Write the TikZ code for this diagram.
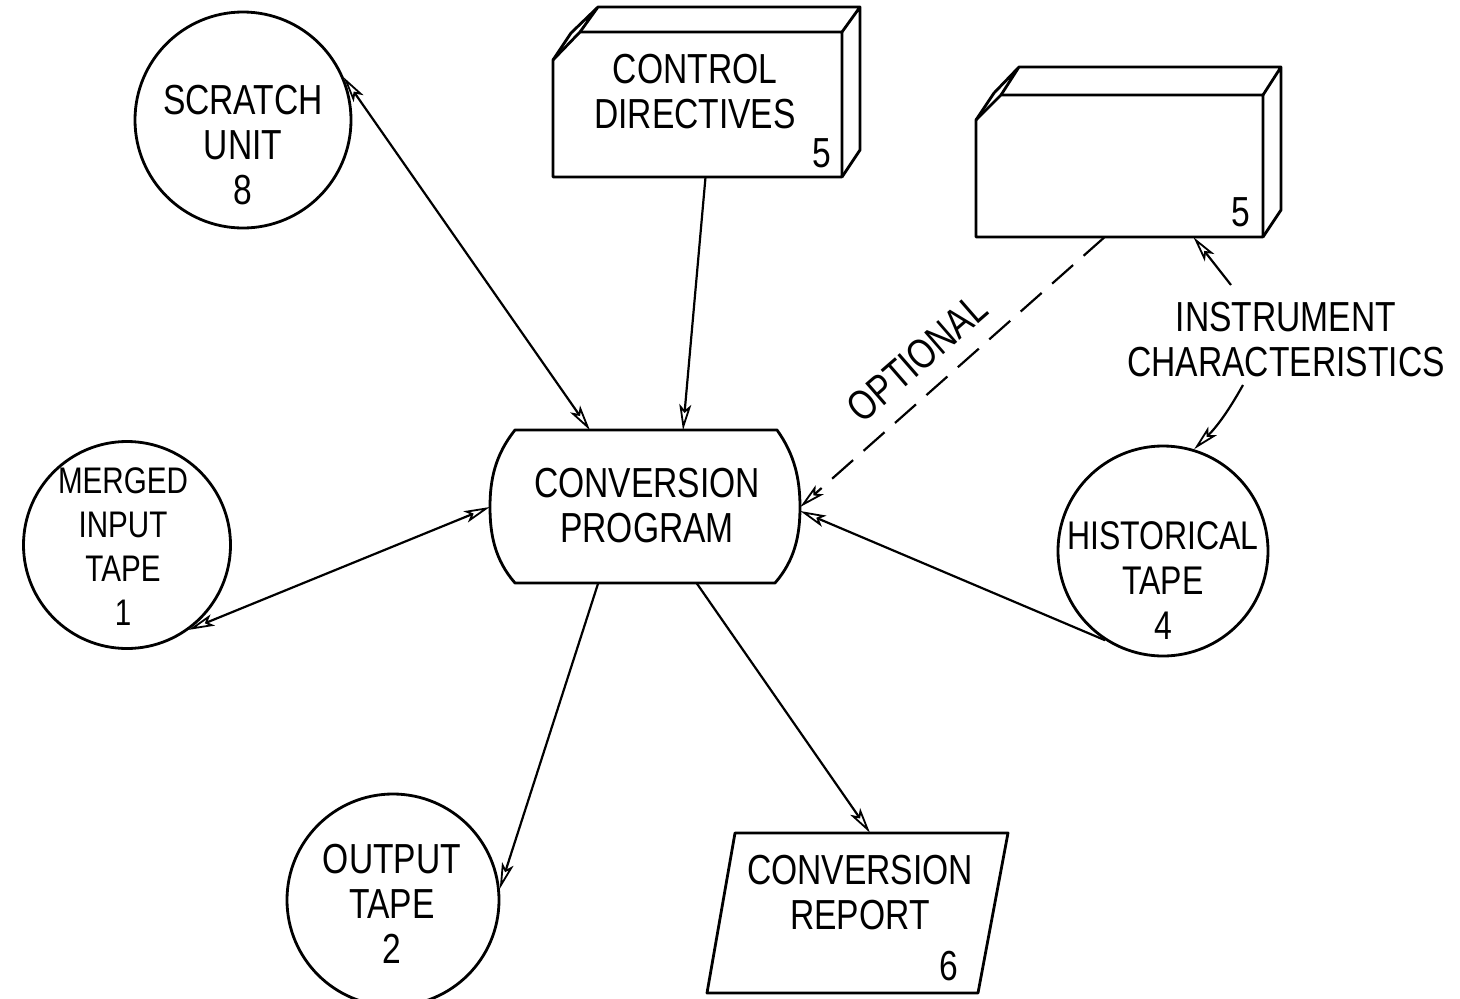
\documentclass[tikz,border=0pt]{standalone}
\usepackage{fontspec}
\setmainfont{Liberation Sans}[FakeStretch=0.8]
\usetikzlibrary{arrows.meta,calc}
\begin{document}
\begin{tikzpicture}[x=1pt,y=-1pt,
  every node/.style={font=\fontsize{42}{45}\selectfont, inner sep=0pt},
  tape/.style={draw, circle, line width=2.8pt, minimum size=#1},
  outline/.style={line width=2.8pt, line join=round},
  area/.style={rectangle, draw=none, minimum width=#1},
  lbl/.style={align=center},
  ahead/.tip={Stealth[open,length=26pt,width=12pt,inset=6pt,line width=1.8pt]},
  flow/.style={line width=2.2pt, -{ahead}},
  twoway/.style={line width=2.2pt, {ahead}-{ahead}},
  optflow/.style={flow, dash pattern=on 28pt off 14pt}
]
\useasboundingbox (0,0) rectangle (1460,999);

% ---- tape units (circles)
\node[tape=216pt] (scratch) at (243,120) {};
\node[tape=207pt] (merged)  at (127,545) {};
\node[tape=212pt] (output)  at (393,900) {};
\node[tape=210pt] (hist)    at (1163,551) {};

\node[lbl] (t-scratch) at (243,145) {SCRATCH\\UNIT\\8};
\node[lbl, font=\fontsize{37}{44}\selectfont] (t-merged) at (123,547) {MERGED\\INPUT\\TAPE\\1};
\node[lbl] (t-output)  at (392,904) {OUTPUT\\TAPE\\2};
\node[lbl, font=\fontsize{40}{45}\selectfont] (t-hist) at (1163,581) {HISTORICAL\\TAPE\\4};

% ---- conversion program (process box with bulging sides)
\node[area=310pt, minimum height=153pt] (conv) at (645,507) {};
\draw[outline] (515,430) -- (777,430)
  .. controls (795,455) and (800,480) .. (800,507)
  .. controls (800,535) and (795,560) .. (775,583)
  -- (515,583)
  .. controls (495,560) and (490,535) .. (490,507)
  .. controls (490,480) and (495,455) .. (515,430) -- cycle;
\node[lbl] (t-conv) at (647,506) {CONVERSION\\PROGRAM};

% ---- control directives (punched card deck)
\node[area=289pt, minimum height=145pt] (ctrl) at (697.5,104.5) {};
\draw[outline] (553,177) -- (553,60) -- (580,32) -- (842,32) -- (842,177) -- cycle;
\draw[outline] (553,60) -- (571,33) -- (598,7) -- (860,7) -- (842,32)
  (860,7) -- (860,150) -- (842,177)
  (580,32) -- (598,7);
\node[lbl] (t-ctrl) at (695,92) {CONTROL\\DIRECTIVES};
\node (n-ctrl) at (822,153) {5};

% ---- instrument characteristics deck
\node[area=287pt, minimum height=142pt] (inst) at (1119.5,166) {};
\draw[outline] (976,237) -- (976,120) -- (1001,95) -- (1263,95) -- (1263,237) -- cycle;
\draw[outline] (976,120) -- (994,93) -- (1019,67) -- (1281,67) -- (1263,95)
  (1281,67) -- (1281,210) -- (1263,237)
  (1001,95) -- (1019,67);
\node (n-inst) at (1241,212) {5};

\node[lbl] (t-inst) at (1286,340) {INSTRUMENT\\CHARACTERISTICS};
\coordinate (instup) at (1231,285);
\coordinate (instdn) at (1243,385);

% ---- conversion report (document)
\node[area=245pt, minimum height=160pt] (rep) at (857,913) {};
\draw[outline] (735,833) -- (1008,833) -- (978,993) -- (707,993) -- cycle;
\node[lbl] (t-rep) at (860,893) {CONVERSION\\REPORT};
\node (n-rep) at (949,966) {6};

% ---- connectors
\draw[twoway] (scratch.23) -- ($(conv.north)+(-55,0)$);
\draw[flow] ($(ctrl.south)+(8,0)$) -- ($(conv.north)+(38,0)$);
\draw[twoway] (merged.-54) -- (conv.west);
\draw[optflow] ($(inst.south)+(-15,0)$) -- (conv.east);
\node[rotate=41] (t-opt) at (917,358) {OPTIONAL};
\draw[flow] (hist.-123) -- ($(conv.east)+(0,4)$);
\draw[flow] (instup) -- ($(inst.south)+(74,0)$);
\draw[flow] (instdn) to[bend left=8] (hist.73);
\draw[flow] ($(conv.south)+(-47,0)$) -- (output.6);
\draw[flow] ($(conv.south)+(52,0)$) -- ($(rep.north)+(13,0)$);
\end{tikzpicture}
\end{document}
